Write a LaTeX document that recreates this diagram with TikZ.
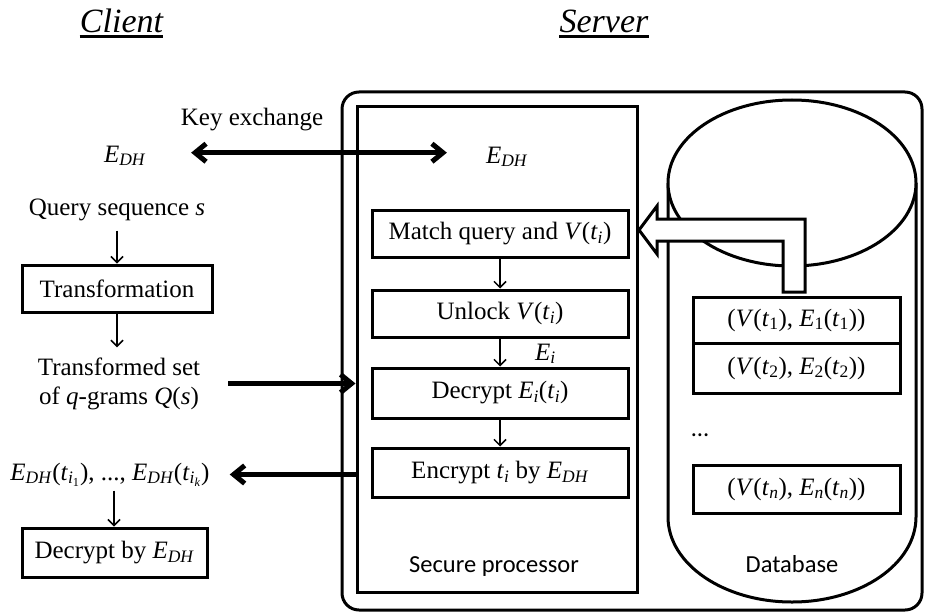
\documentclass[tikz,border=0pt]{standalone}
\usepackage{fontspec}
\setmainfont{Liberation Serif}
\newfontfamily\calib{Carlito}
\usetikzlibrary{arrows.meta}
\newcommand{\EDH}{\textit{E}\textsubscript{\textit{DH}}}
\newcommand{\tsub}[1]{\textit{t}\textsubscript{#1}}
\begin{document}
\begin{tikzpicture}[x=1pt,y=-1pt,
  every node/.style={font=\fontsize{25}{29}\selectfont, inner sep=0pt},
  box/.style={draw, line width=3pt, fill=white, inner sep=0pt},
  frame/.style={draw, line width=3pt},
  sans/.style={font=\calib\fontsize{24.5}{28}\selectfont},
  head/.style={font=\fontsize{34}{38}\selectfont\itshape},
  thinarr/.style={line width=1.5pt, -{Straight Barb[length=6pt,width=12pt]}},
  thickarr/.style={line width=5pt, -{Straight Barb[length=11pt,width=18pt]}},
  dblarr/.style={line width=5pt, {Straight Barb[length=11pt,width=18pt]}-{Straight Barb[length=11pt,width=18pt]}}
]
\useasboundingbox (0,0) rectangle (925,615);

% headers
\node[head, anchor=base] (client) at (121.5,33) {Client};
\node[head, anchor=base] (server) at (604,33) {Server};
\draw[line width=3pt] ([yshift=-4pt]client.base west) -- ([yshift=-4pt]client.base east);
\draw[line width=3pt] ([yshift=-4pt]server.base west) -- ([yshift=-4pt]server.base east);

% server frames
\node[frame, rounded corners=17pt, minimum width=580pt, minimum height=518pt] (srv) at (632,351) {};
\node[frame, minimum width=280pt, minimum height=485pt] (sp) at (497,349.5) {};
\node[sans, anchor=base] (splabel) at (494,572) {Secure processor};

% database cylinder
\draw[line width=3pt, fill=white] (668,183) -- (668,517)
  .. controls (668,564) and (723.5,602) .. (792,602)
  .. controls (860.5,602) and (916,564) .. (916,517) -- (916,183);
\draw[line width=3pt, fill=white] (792,183) ellipse [x radius=124pt, y radius=83pt];
\node[sans, anchor=base] (dblabel) at (792,572) {Database};
\node[box, minimum width=207pt, minimum height=46pt] (r1) at (796.5,320) {(\textit{V}(\tsub{1}), \textit{E}\textsubscript{1}(\tsub{1}))};
\node[box, minimum width=207pt, minimum height=50pt] (r2) at (796.5,368) {(\textit{V}(\tsub{2}), \textit{E}\textsubscript{2}(\tsub{2}))};
\node[sans] (dots) at (700,435) {\ldots};
\node[box, minimum width=207pt, minimum height=48pt] (rn) at (796.5,489) {(\textit{V}(\tsub{\textit{n}}), \textit{E}\textsubscript{\textit{n}}(\tsub{\textit{n}}))};

% secure processor boxes
\node[box, minimum width=256pt, minimum height=47pt] (match) at (500,233.5) {Match query and \textit{V}(\tsub{\textit{i}})};
\node[box, minimum width=256pt, minimum height=47pt] (unlock) at (500,313.5) {Unlock \textit{V}(\tsub{\textit{i}})};
\node[box, minimum width=256pt, minimum height=50pt] (decr) at (500,393) {Decrypt \textit{E}\textsubscript{\textit{i}}(\tsub{\textit{i}})};
\node[box, minimum width=256pt, minimum height=49pt] (encr) at (500,472.5) {Encrypt \tsub{\textit{i}} by \EDH};
\node[anchor=base west] (ei) at (535,360) {\textit{E}\textsubscript{\textit{i}}};
\draw[thinarr] (match) -- (unlock);
\draw[thinarr] (unlock) -- (decr);
\draw[thinarr] (decr) -- (encr);
\node[anchor=base] (edhS) at (507,163) {\EDH};

% hollow arrow from database to match box
\draw[line width=3pt, fill=white, line join=miter] (805,292) -- (805,219) -- (657,219) -- (657,206)
  -- (639,230) -- (657,254) -- (657,241) -- (783,241) -- (783,292) -- cycle;

% client side
\node[anchor=base] (kex) at (252,125) {Key exchange};
\node[anchor=base] (edhC) at (125,162) {\EDH};
\node[anchor=base] (query) at (117,215) {Query sequence \textit{s}};
\node[box, minimum width=190pt, minimum height=47pt] (trans) at (117,288.5) {Transformation};
\node[align=center] (tset) at (119,383.5) {Transformed set\\of \textit{q}-grams \textit{Q}(\textit{s})};
\node[anchor=base] (edhlist) at (110,480) {\EDH(\textit{t}\textsubscript{\textit{i}\textsubscript{1}}), ..., \EDH(\textit{t}\textsubscript{\textit{i}\textsubscript{\textit{k}}})};
\node[box, minimum width=185pt, minimum height=49pt] (decby) at (114.5,552.5) {Decrypt by \EDH};

\draw[thinarr] ([yshift=-10pt]query.south) -- (query.south |- trans.north);
\draw[thinarr] (trans.south) -- ([yshift=10pt]trans.south |- tset.north);
\draw[thinarr] ([xshift=4pt,yshift=-4pt]edhlist.south) -- ([xshift=4pt]edhlist.south |- decby.north);

\coordinate (kl) at ([xshift=45pt,yshift=3pt]edhC.east);
\coordinate (kr) at ([xshift=-39pt]edhS.west |- kl);
\draw[dblarr] (kl) -- (kr);
\draw[thickarr] ([xshift=28pt]tset.east) -- (sp.west |- tset.east);
\draw[thickarr] (sp.west |- edhlist.east) -- ([xshift=20pt]edhlist.east);
\end{tikzpicture}
\end{document}
